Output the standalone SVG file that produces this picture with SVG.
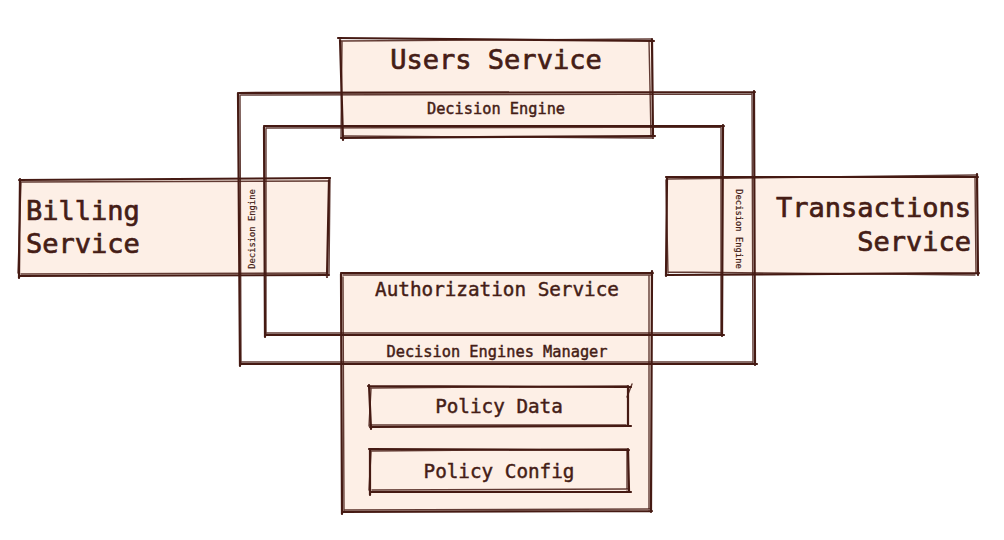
<svg xmlns="http://www.w3.org/2000/svg" width="1004" height="540" viewBox="0 0 1004 540">
<style>
.fill{fill:#fdefe6;stroke:none}
.ln{fill:none;stroke:#451a13;stroke-width:2.2;stroke-linecap:round;stroke-linejoin:round}
.ln2{fill:none;stroke:#451a13;stroke-width:1.4;stroke-linecap:round;stroke-linejoin:round;opacity:0.85}
text{font-family:"DejaVu Sans Mono","Liberation Mono",monospace;fill:#451d16;stroke:#451d16;stroke-width:0.45}
.big{font-size:27px;stroke-width:0.7}
.mid{font-size:19.3px}
.sm{font-size:15.3px}
.xs{font-size:8.8px;stroke-width:0.2}
</style>
<rect width="1004" height="540" fill="#ffffff"/>

<g id="users-service">
  <path class="fill" d="M340 40 L652 40 L652 137 L342 137 Z"/>
  <path class="ln" d="M338 38 L654 41 M652 39 L653 138 M655 136 L341 138 M343 140 L340 39"/>
  <path class="ln2" d="M341 41 L651 39 M649 41 L651 136 M652 138 L343 136 M341 137 L342 42"/>
  <text class="big" x="496" y="69" text-anchor="middle">Users Service</text>
</g>

<g id="billing-service">
  <path class="fill" d="M20 180 L329 179 L328 276 L19 275 Z"/>
  <path class="ln" d="M19 180 L330 178 M329 180 L327 277 M329 275 L20 276 M19 278 L20 179"/>
  <path class="ln2" d="M21 182 L328 181 M330 178 L329 274 M327 273 L21 274 M18 273 L21 182"/>
  <text class="big" x="26" y="220">Billing</text>
  <text class="big" x="26" y="253">Service</text>
</g>

<g id="transactions-service">
  <path class="fill" d="M667 177 L977 176 L977 274 L667 273 Z"/>
  <path class="ln" d="M666 177 L978 177 M977 174 L978 275 M979 273 L667 275 M666 276 L667 178"/>
  <path class="ln2" d="M668 179 L976 175 M975 177 L976 273 M975 275 L668 272 M668 273 L666 180"/>
  <text class="big" x="971" y="217" text-anchor="end">Transactions</text>
  <text class="big" x="971" y="251" text-anchor="end">Service</text>
</g>

<g id="authorization-service">
  <path class="fill" d="M342 273 L652 273 L651 511 L342 511 Z"/>
  <path class="ln" d="M341 273 L653 273 M652 271 L651 512 M652 511 L342 512 M342 514 L341 274"/>
  <path class="ln2" d="M343 275 L651 275 M649 275 L649 510 M650 509 L344 510 M344 511 L343 277"/>
  <text class="mid" x="497" y="296" text-anchor="middle">Authorization Service</text>
</g>

<g id="decision-engine">
  <path class="ln" d="M239 93 L755 92 M754 91 L755 365 M757 364 L240 364 M240 366 L238 93"/>
  <path class="ln2" d="M241 95 L752 94 M752 93 L753 363 M753 362 L242 362 M241 363 L240 95"/>
  <path class="ln" d="M264 126 L724 126 M723 125 L722 336 M724 335 L265 335 M265 337 L264 127"/>
  <path class="ln2" d="M266 128 L721 127 M721 126 L721 334 M720 333 L266 333 M266 334 L266 129"/>
  <text class="sm" x="496" y="114" text-anchor="middle">Decision Engine</text>
  <text class="xs" x="0" y="0" text-anchor="middle" transform="translate(255 229) rotate(-90)">Decision Engine</text>
  <text class="xs" x="0" y="0" text-anchor="middle" transform="translate(736 229) rotate(90)">Decision Engine</text>
  <text class="sm" x="497" y="357" text-anchor="middle">Decision Engines Manager</text>
</g>

<g id="policy-data">
  <path class="ln" d="M368 386 L631 387 M628 386 L628 426 M631 426 L370 427 M371 429 L369 385"/>
  <path class="ln2" d="M370 388 L627 386 M632 384 L627 397 M626 425 L370 425 M369 426 L371 389"/>
  <text class="mid" x="499" y="413" text-anchor="middle">Policy Data</text>
</g>

<g id="policy-config">
  <path class="ln" d="M369 449 L629 450 M628 449 L629 491 M631 492 L371 492 M370 495 L370 450"/>
  <path class="ln2" d="M371 451 L627 449 M627 451 L627 490 M628 489 L372 490 M369 490 L371 452"/>
  <text class="mid" x="499" y="478" text-anchor="middle">Policy Config</text>
</g>

<g id="connectors"></g>
</svg>
